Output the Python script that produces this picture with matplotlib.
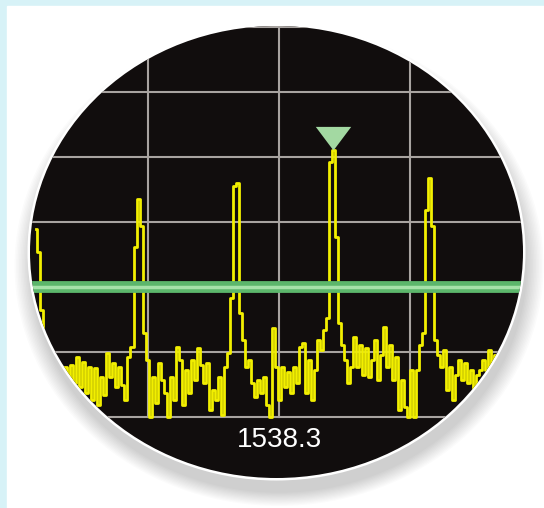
import numpy as np
import matplotlib.pyplot as plt
from matplotlib.patches import Ellipse, Rectangle

# spectrum display settings
center_freq = 1538.3
f_start, f_stop = 1536.445, 1539.949
threshold_db = -40
grid_db = [-60, -50, -40, -30, -20, -10, 0]
grid_freq = [1537.3, 1538.3, 1539.3]

# trace (dB)
trace_db = [
    -31.0, -34.6, -43.5, -51.0, -52.0, -53.5, -51.0, -54.3, -52.0, -53.0,
    -52.3, -53.8, -52.0, -54.8, -50.8, -55.4, -51.5, -56.3, -52.3, -57.4,
    -52.5, -58.2, -53.8, -56.6, -50.2, -53.8, -51.7, -55.4, -52.3, -55.0,
    -57.4, -50.8, -49.2, -33.8, -26.5, -30.6, -47.0, -51.2, -60.0, -53.8,
    -57.8, -51.7, -54.3, -56.3, -60.0, -53.8, -57.4, -49.2, -51.2, -58.2,
    -52.8, -56.3, -51.2, -54.3, -49.4, -52.0, -54.8, -51.7, -58.9, -55.8,
    -57.4, -53.8, -59.7, -52.3, -50.2, -41.7, -24.5, -24.0, -44.0, -48.2,
    -52.3, -51.2, -54.8, -56.9, -54.3, -56.3, -53.8, -58.2, -60.0, -46.3,
    -52.3, -57.4, -52.3, -55.4, -53.0, -56.3, -52.3, -54.8, -49.2, -48.6,
    -56.3, -51.2, -57.4, -52.8, -48.2, -49.7, -46.6, -44.8, -20.8, -18.9,
    -32.3, -45.5, -48.9, -51.2, -54.8, -52.3, -47.7, -52.3, -48.9, -53.5,
    -49.4, -53.8, -51.2, -48.2, -54.3, -50.5, -46.1, -52.3, -48.9, -54.3,
    -50.8, -58.9, -54.3, -58.5, -60.0, -52.8, -60.0, -52.8, -48.9, -47.1,
    -28.2, -23.2, -30.6, -48.2, -50.5, -52.3, -49.7, -55.8, -52.3, -57.4,
    -53.5, -51.2, -54.3, -51.7, -54.8, -52.8, -55.6, -53.5, -52.8, -51.2,
    -52.8, -49.7, -52.0, -50.5,
]

freq = np.linspace(f_start, f_stop, len(trace_db))
amp = np.array(trace_db)

fig = plt.figure(figsize=(5.44, 5.08), dpi=100, facecolor="#d7f2f7")

# background panel + round screen (pixel units)
bg = fig.add_axes([0, 0, 1, 1])
bg.set_xlim(0, 544)
bg.set_ylim(508, 0)
bg.axis("off")
bg.add_patch(Rectangle((7, 6), 537, 502, color="white"))
for k in range(12):
    bg.add_patch(Ellipse((279, 266), 493 + 36 - 3 * k, 452 + 28 - 2.4 * k,
                         color="black", alpha=0.016, lw=0))
bg.add_patch(Ellipse((276.5, 252), 498, 457, color="white", lw=0))
screen = Ellipse((276.5, 252), 493, 452, color="#110d0d", lw=0)
bg.add_patch(screen)

# spectrum axes
ax = fig.add_axes([17 / 544, 1 - 417 / 508, 524 / 544, (417 - 14) / 508])
ax.set_xlim(1536.3, 1540.3)
ax.set_ylim(-60, 2)
ax.patch.set_alpha(0)
ax.axis("off")

for d in grid_db:
    ax.axhline(d, color="#a8a3a0", lw=1.5, zorder=1, clip_path=screen)
for f in grid_freq:
    ax.axvline(f, color="#a8a3a0", lw=1.5, zorder=1, clip_path=screen)

ax.step(freq, amp, where="mid", color="#f2ef00", lw=2.0, zorder=2,
        clip_path=screen)

ax.axhline(threshold_db, color="#5cb66b", lw=8.5, zorder=3, clip_path=screen)
ax.axhline(threshold_db, color="#a6e2a9", lw=2.5, zorder=3, clip_path=screen)

# peak marker
i_peak = int(np.argmax(amp))
ax.plot(freq[i_peak], amp[i_peak], marker=[(-1.5, 2), (1.5, 2), (0, 0)],
        markersize=34, color="#a3d9a2", mec="none", zorder=4, clip_on=False)

ax.text(center_freq, -63.5, f"{center_freq}", color="white", fontsize=20,
        family="Liberation Sans", ha="center", va="center", clip_on=False)

fig.savefig("out.png", dpi=100, facecolor=fig.get_facecolor())
